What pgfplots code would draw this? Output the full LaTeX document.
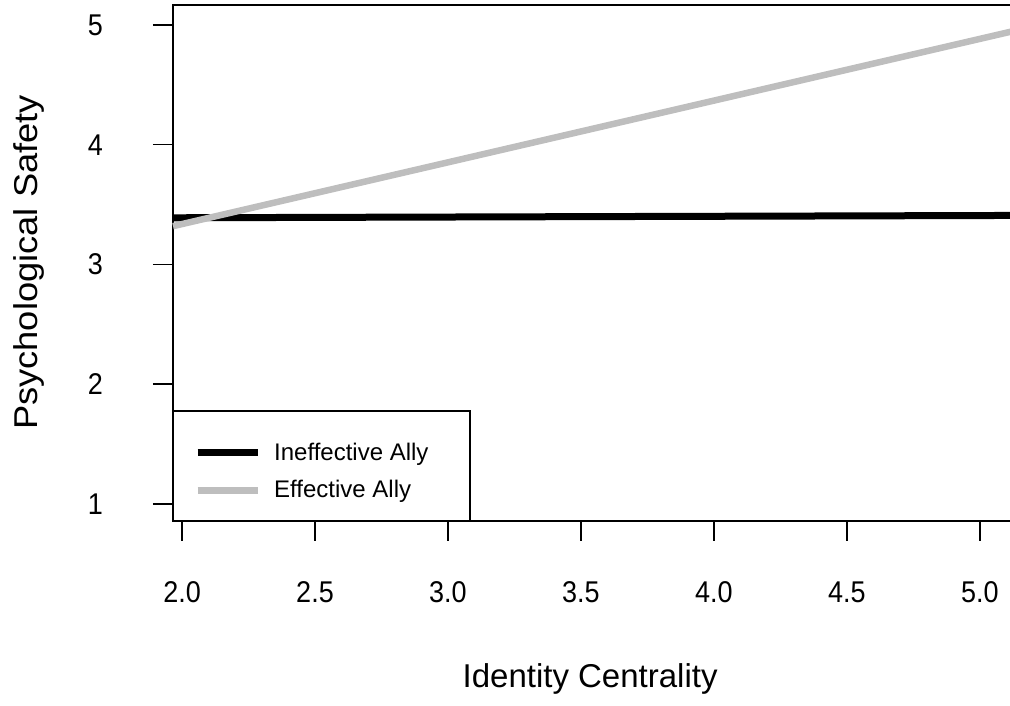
\documentclass[border=0pt]{standalone}
\usepackage{fontspec}
\setmainfont{Liberation Sans}
\usepackage{pgfplots}
\pgfplotsset{compat=1.18}
\definecolor{effgray}{HTML}{BEBEBE}
\begin{document}
\begin{tikzpicture}[x=1pt,y=1pt]
\useasboundingbox (0,0) rectangle (1010,706);
\begin{axis}[
  at={(173pt,185pt)}, anchor=south west,
  scale only axis, width=860pt, height=516pt,
  xmin=1.966, xmax=5.2, ymin=0.858, ymax=5.167,
  clip=false,
  axis line style={line width=1.5pt, black},
  xtick={2,2.5,3,3.5,4,4.5,5}, ytick={1,2,3,4,5},
  tick align=outside, major tick length=20pt,
  tick style={line width=1.5pt, black},
  xtick pos=bottom, ytick pos=left,
  /pgf/number format/assume math mode=true,
  every tick label/.append style={font=\fontsize{30}{30}\selectfont, inner sep=0pt},
  xticklabel={\scalebox{0.9}[1]{\pgfmathprintnumber[fixed,fixed zerofill,precision=1]{\tick}}},
  yticklabel={\scalebox{0.9}[1]{\pgfmathprintnumber{\tick}}},
  xticklabel style={anchor=base, yshift=-62pt},
  yticklabel style={anchor=east, xshift=-50pt},
  xlabel={Identity Centrality},
  ylabel={\scalebox{1.1}[1]{Psychological Safety}},
  xlabel style={at={(axis description cs:0.485,-0.3236)}, anchor=base, font=\fontsize{33}{33}\selectfont},
  ylabel style={at={(axis description cs:-0.1581,0.501)}, anchor=base, rotate=0, font=\fontsize{33}{33}\selectfont},
  legend style={draw=none, fill=none, at={(axis cs:2.045,1.275)}, anchor=west,
    inner sep=0pt, row sep=19pt, column sep=13pt,
    font=\fontsize{24}{24}\selectfont, nodes={inner sep=0pt}},
  legend cell align=left,
  legend image code/.code={\draw[#1, line width=7pt] (0pt,0pt) -- (60pt,0pt);},
]
\draw[line width=1.5pt, fill=white] (axis cs:1.966,0.858) rectangle (axis cs:3.083,1.777);
\addplot[black, line width=7pt] coordinates {(1.966,3.39) (5.2,3.41)};
\addlegendentry{Ineffective Ally}
\addplot[effgray, line width=6.5pt] coordinates {(1.966,3.32) (5.2,4.987)};
\addlegendentry{Effective Ally}
\end{axis}
\end{tikzpicture}
\end{document}
